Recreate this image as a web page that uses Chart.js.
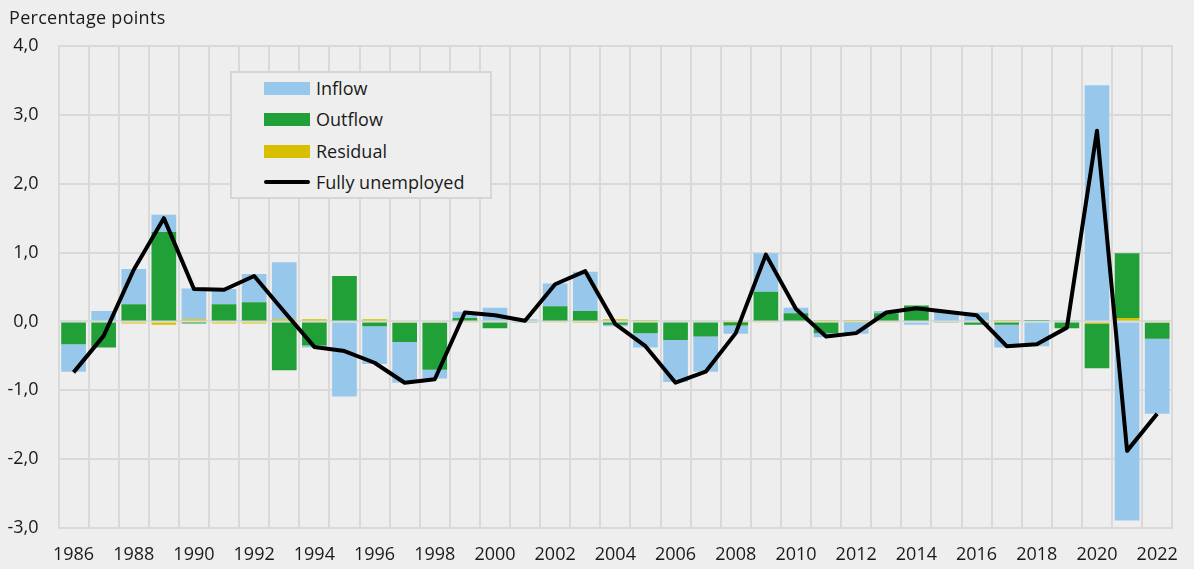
<!DOCTYPE html>
<html>
<head>
<meta charset="utf-8">
<script src="https://cdn.jsdelivr.net/npm/chart.js@4.4.1/dist/chart.umd.min.js"></script>
<style>
  html, body { margin: 0; padding: 0; background: #eeeeee; }
  #wrap { position: relative; width: 1194px; height: 569px; font-family: "Open Sans", sans-serif; color: #1a1a1a; }
  canvas { position: absolute; left: 0; top: 0; }
  #ytitle { position: absolute; left: 9px; top: 5px; font-size: 18px; line-height: 24px; letter-spacing: 0.3px; }
  #legend { position: absolute; left: 230px; top: 71px; width: 258px; height: 124px; border: 2px solid #d6d6d6; background: #eeeeee; box-sizing: content-box; }
  .row { position: absolute; left: 32px; height: 24px; display: flex; align-items: center; font-size: 18px; }
  .sw { width: 46px; height: 13px; margin-right: 6px; }
  .ln { width: 46px; height: 4px; margin-right: 6px; background: #000; border-radius: 2px; }
</style>
</head>
<body>
<div id="wrap">
  <canvas id="c" width="1194" height="569"></canvas>
  <div id="ytitle">Percentage points</div>
  <div id="legend">
    <div class="row" style="top:3px"><div class="sw" style="background:#97c8ec"></div>Inflow</div>
    <div class="row" style="top:34px"><div class="sw" style="background:#21a038"></div>Outflow</div>
    <div class="row" style="top:66px"><div class="sw" style="background:#d8bf00"></div>Residual</div>
    <div class="row" style="top:97px"><div class="ln"></div>Fully unemployed</div>
  </div>
</div>
<script>
const years = ['1986','1987','1988','1989','1990','1991','1992','1993','1994','1995','1996','1997','1998','1999','2000','2001','2002','2003','2004','2005','2006','2007','2008','2009','2010','2011','2012','2013','2014','2015','2016','2017','2018','2019','2020','2021','2022'];
const inflow = [-0.40,0.15,0.51,0.25,0.45,0.22,0.41,0.83,-0.03,-1.09,-0.55,-0.59,-0.13,0.09,0.20,0.03,0.33,0.57,-0.02,-0.21,-0.61,-0.51,-0.12,0.56,0.08,-0.06,-0.16,0.03,-0.05,0.15,0.13,-0.33,-0.36,0.01,3.43,-2.89,-1.09];
const outflow = [-0.33,-0.38,0.25,1.30,-0.03,0.25,0.28,-0.71,-0.35,0.66,-0.07,-0.28,-0.68,0.05,-0.10,-0.02,0.22,0.15,-0.05,-0.17,-0.27,-0.22,-0.05,0.43,0.12,-0.17,-0.02,0.12,0.23,-0.02,-0.05,-0.05,0.02,-0.10,-0.65,0.94,-0.23];
const residual = [0,0,-0.03,-0.05,0.03,-0.03,-0.03,0.03,0.03,0,0.03,-0.02,-0.02,-0.02,0,0,-0.02,-0.01,0.03,0.02,0,0,-0.01,-0.02,0,0.02,0.02,-0.02,0,0,0,0.02,0,0,-0.03,0.05,-0.02];
const fullyUnemployed = [-0.74,-0.21,0.75,1.50,0.47,0.46,0.66,0.14,-0.37,-0.43,-0.60,-0.89,-0.84,0.13,0.09,0.01,0.54,0.73,-0.04,-0.36,-0.89,-0.73,-0.17,0.97,0.18,-0.22,-0.17,0.13,0.19,0.14,0.09,-0.36,-0.33,-0.09,2.77,-1.88,-1.34];
const yMin = -3, yMax = 4, yStep = 1;

const font = { family: '"Open Sans", sans-serif', size: 18 };
const gridColor = '#d9d9d9';

new Chart(document.getElementById('c'), {
  type: 'bar',
  data: {
    labels: years,
    datasets: [
      { type: 'line', label: 'Fully unemployed', data: fullyUnemployed, borderColor: '#000', borderWidth: 4, pointRadius: 0, tension: 0, fill: false, stack: 'line', borderJoinStyle: 'round', borderCapStyle: 'butt' },
      { label: 'Residual', data: residual, backgroundColor: '#d8bf00', stack: 'flows' },
      { label: 'Outflow', data: outflow, backgroundColor: '#21a038', stack: 'flows' },
      { label: 'Inflow', data: inflow, backgroundColor: '#97c8ec', stack: 'flows' }
    ]
  },
  options: {
    responsive: false,
    animation: false,
    maintainAspectRatio: false,
    layout: { padding: { top: 46, right: 17, left: 0, bottom: 0 } },
    datasets: { bar: { barPercentage: 0.82, categoryPercentage: 1.0 } },
    plugins: { legend: { display: false }, tooltip: { enabled: false } },
    scales: {
      x: {
        stacked: true,
        grid: { color: gridColor, lineWidth: 2, drawTicks: false, offset: true },
        border: { color: gridColor, width: 2 },
        ticks: {
          autoSkip: false, maxRotation: 0, padding: 16, color: '#1a1a1a', font,
          callback: function(v, i) { return i % 2 === 0 ? this.getLabelForValue(v) : ''; }
        },
        afterFit: s => { s.height = 41; }
      },
      y: {
        stacked: true,
        min: yMin, max: yMax,
        grid: { color: gridColor, lineWidth: 2, drawTicks: false },
        border: { color: gridColor, width: 2 },
        ticks: {
          stepSize: yStep, padding: 20, color: '#1a1a1a', font,
          callback: v => v.toFixed(1).replace('.', ',')
        },
        afterFit: s => { s.width = 58.5; }
      }
    }
  }
});
</script>
</body>
</html>
